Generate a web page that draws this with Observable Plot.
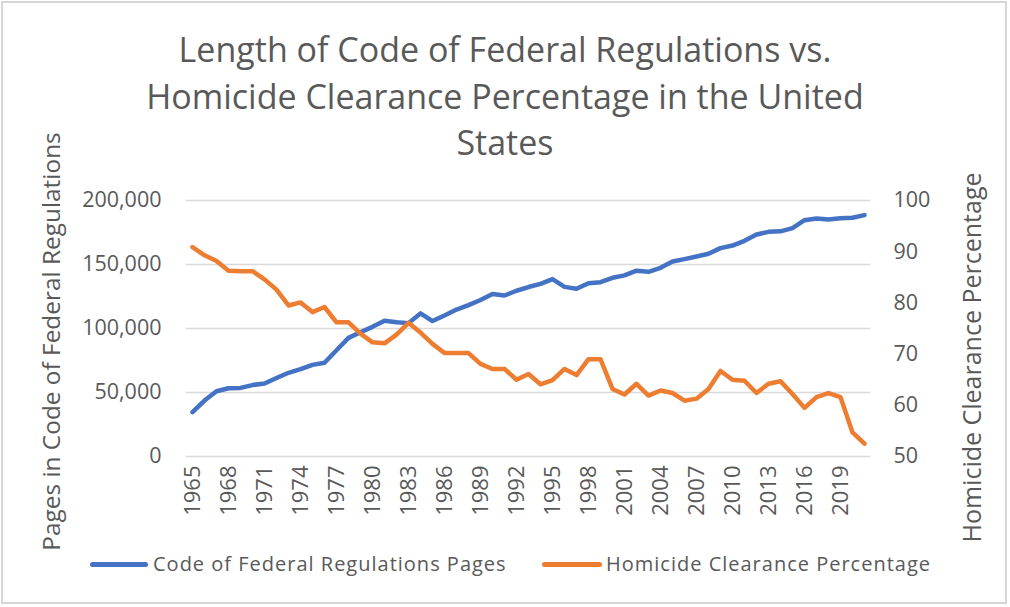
<!DOCTYPE html>
<html>
<head>
<meta charset="utf-8">
<script src="https://cdn.jsdelivr.net/npm/d3@7"></script>
<script src="https://cdn.jsdelivr.net/npm/@observablehq/plot@0.6"></script>
<style>
  html, body { margin: 0; padding: 0; background: #fff; }
  #chart { position: relative; width: 1010px; height: 607px; overflow: hidden; background: #fff; font-family: "Open Sans", sans-serif; color: #595959; }
  #border { position: absolute; left: 1px; top: 1px; width: 1006px; height: 603px; border: 2px solid #d6d6d6; box-sizing: border-box; pointer-events: none; }
  #title { position: absolute; left: 0; top: 26px; width: 1010px; text-align: center; font-size: 34px; line-height: 46.5px; color: #595959; }
  #plot { position: absolute; left: 0; top: 0; }
  .leg-swatch { position: absolute; height: 5px; border-radius: 3px; }
  .leg-text { position: absolute; font-size: 20px; letter-spacing: 1px; line-height: 24px; white-space: nowrap; color: #595959; }
</style>
</head>
<body>
<div id="chart">
  <div id="plot"></div>
  <div id="title">Length of Code of Federal Regulations vs.<br>Homicide Clearance Percentage in the United<br>States</div>
  <div id="legend"></div>
  <div id="border"></div>
</div>
<script>
// ---- Data ----
const years = [1965,1966,1967,1968,1969,1970,1971,1972,1973,1974,1975,1976,1977,1978,1979,
  1980,1981,1982,1983,1984,1985,1986,1987,1988,1989,1990,1991,1992,1993,1994,1995,1996,1997,
  1998,1999,2000,2001,2002,2003,2004,2005,2006,2007,2008,2009,2010,2011,2012,2013,2014,2015,
  2016,2017,2018,2019,2020,2021];
const cfrPages = [34600,43700,51000,53300,53600,55800,57000,61300,65400,68200,71600,73200,83000,92700,97100,
  101300,106000,104900,104200,111800,105800,110200,114800,118300,122300,127000,125800,129500,132400,134900,138600,132500,131000,
  135300,136200,139600,141500,145200,144300,147400,152300,154200,156200,158400,162800,164800,168500,173400,175500,175900,178400,
  184600,186000,185200,186200,186500,188600];
const clearancePct = [90.9,89.3,88.2,86.3,86.2,86.2,84.6,82.6,79.5,80.1,78.2,79.2,76.2,76.2,74.0,
  72.3,72.1,73.8,76.1,74.2,72.0,70.2,70.2,70.2,68.1,67.1,67.1,65.0,66.1,64.1,64.9,67.1,65.9,
  69.0,69.0,63.2,62.1,64.2,61.9,62.9,62.4,60.9,61.3,63.2,66.7,65.0,64.8,62.4,64.2,64.7,62.2,
  59.5,61.6,62.4,61.6,54.7,52.5];
const xTickYears = [1965,1968,1971,1974,1977,1980,1983,1986,1989,1992,1995,1998,2001,2004,2007,2010,2013,2016,2019];
const leftTicks = [0,50000,100000,150000,200000];
const rightTicks = [50,60,70,80,90,100];
const seriesNames = ["Code of Federal Regulations Pages","Homicide Clearance Percentage"];
const seriesColors = ["#4472C4","#ED7D31"];
const titleLeft = "Pages in Code of Federal Regulations";
const titleRight = "Homicide Clearance Percentage";

// secondary axis mapping (50..100 -> 0..200000)
const rMin = 50, rMax = 100, lMin = 0, lMax = 200000;
const toLeft = v => lMin + (v - rMin) / (rMax - rMin) * (lMax - lMin);
const fromLeft = v => rMin + (v - lMin) / (lMax - lMin) * (rMax - rMin);

const cfrData = years.map((y, i) => ({year: y, value: cfrPages[i]}));
const pctData = years.map((y, i) => ({year: y, value: toLeft(clearancePct[i])}));

const plot = Plot.plot({
  width: 1010,
  height: 607,
  marginLeft: 186,
  marginRight: 140,
  marginTop: 200,
  marginBottom: 151,
  style: {fontFamily: "'Open Sans', sans-serif", fontSize: "21.5px", color: "#595959", background: "transparent"},
  x: {type: "point", domain: years, padding: 0.4},
  y: {domain: [lMin, lMax]},
  marks: [
    Plot.gridY(leftTicks, {stroke: "#d9d9d9", strokeOpacity: 1, strokeWidth: 1.5}),
    Plot.axisY(leftTicks, {anchor: "left", tickSize: 0, tickPadding: 25, tickFormat: d3.format(","), label: null}),
    Plot.axisY(rightTicks.map(toLeft), {anchor: "right", tickSize: 0, tickPadding: 23, tickFormat: d => String(Math.round(fromLeft(d))), label: null}),
    Plot.axisX(xTickYears, {anchor: "bottom", tickSize: 0, tickPadding: 9, tickRotate: -90, tickFormat: d => String(d), label: null, fontSize: 22}),
    Plot.line(cfrData, {x: "year", y: "value", stroke: seriesColors[0], strokeWidth: 4.5, strokeLinejoin: "round", strokeLinecap: "round"}),
    Plot.line(pctData, {x: "year", y: "value", stroke: seriesColors[1], strokeWidth: 4.5, strokeLinejoin: "round", strokeLinecap: "round"}),
    Plot.text([titleLeft], {frameAnchor: "left", dx: -134, dy: 13, rotate: -90, textAnchor: "middle", lineAnchor: "middle", fontSize: 24.4, fill: "#595959"}),
    Plot.text([titleRight], {frameAnchor: "right", dx: 102, dy: 29, rotate: -90, textAnchor: "middle", lineAnchor: "middle", fontSize: 25, fill: "#595959"})
  ]
});
document.getElementById("plot").appendChild(plot);

// legend
const legend = document.getElementById("legend");
const legItems = [
  {swLeft: 90, swWidth: 58, textLeft: 153},
  {swLeft: 542, swWidth: 60, textLeft: 606}
];
seriesNames.forEach((name, i) => {
  const sw = document.createElement("div");
  sw.className = "leg-swatch";
  sw.style.left = legItems[i].swLeft + "px";
  sw.style.width = legItems[i].swWidth + "px";
  sw.style.top = "562px";
  sw.style.background = seriesColors[i];
  legend.appendChild(sw);
  const t = document.createElement("div");
  t.className = "leg-text";
  t.style.left = legItems[i].textLeft + "px";
  t.style.top = "552px";
  t.textContent = name;
  legend.appendChild(t);
});
</script>
</body>
</html>
